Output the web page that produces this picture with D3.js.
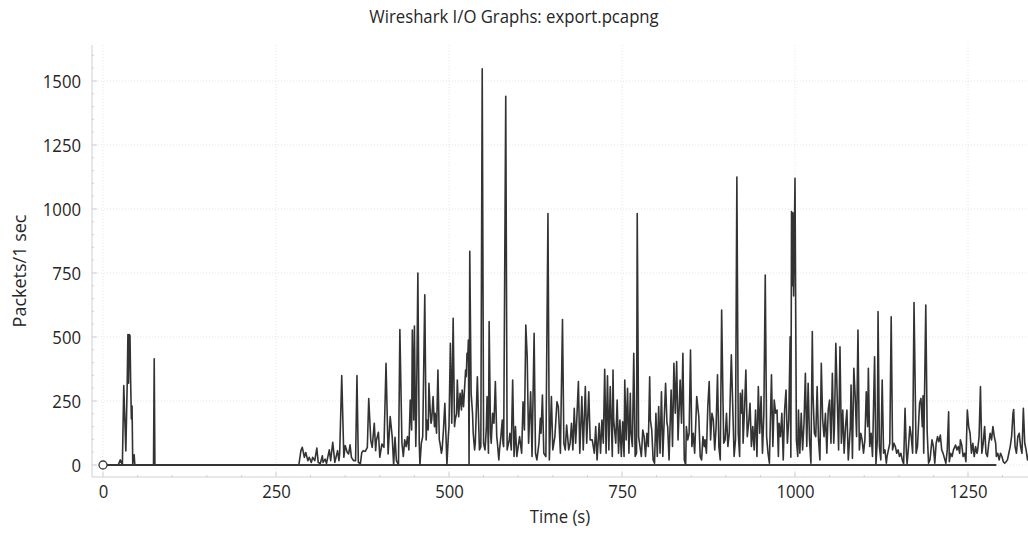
<!DOCTYPE html>
<html><head><meta charset="utf-8">
<script src="https://cdn.jsdelivr.net/npm/d3@7"></script>
<style>
body{margin:0;background:#fff}
svg{display:block}
text{font-family:"Open Sans",sans-serif;fill:#262626}
</style>
</head><body>
<svg id="chart" width="1028" height="533"></svg>
<script>
const chartTitle = "Wireshark I/O Graphs: export.pcapng";
const xAxisTitle = "Time (s)";
const yAxisTitle = "Packets/1 sec";
const xTickValues = [0, 250, 500, 750, 1000, 1250];
const yTickValues = [0, 250, 500, 750, 1000, 1250, 1500];

// [time in seconds, packets per second]
const packetSeries = [
[0,0],[22,0],[25,20],[28,0],[30,310],[32,140],[33,55],[35,320],[36,510],[37,320],[38,510],[39,505],[40,320],[41,180],[42,230],[43,0],[44,35],[45,40],[46,0],[73,0],[74,415],[75,0],[283,0],
[286,56],[288,69],[290,43],[291,30],[293,49],[296,17],[298,30],[301,10],[303,30],[306,17],[309,66],[311,10],[314,6],[317,36],[318,10],[321,23],[323,6],[327,59],[329,17],[332,89],[335,10],[339,56],[341,17],[342,43],[345,349],[348,30],[350,76],
[353,49],[355,43],[357,79],[359,30],[362,17],[365,17],[367,349],[369,10],[372,6],[374,49],[376,56],[379,53],[382,69],[384,260],[387,95],[389,69],[392,163],[394,56],[395,95],[398,128],[400,30],[403,82],[406,69],[409,397],[412,43],[415,189],[418,108],[420,0],[422,108],[424,17],[427,0],[429,529],
[432,85],[434,33],[436,98],[438,72],[440,111],[442,59],[444,254],[446,137],[447,527],[449,176],[450,543],[452,72],[453,202],[455,750],[457,85],[458,0],[460,85],[462,111],[465,665],[467,98],[468,176],[470,137],[471,319],[473,202],[474,163],[475,176],[477,267],[479,150],[480,202],[482,124],[484,371],[486,98],[487,85],[489,46],[490,59],[492,137],[494,241],[496,85],[497,0],[499,111],[500,150],
[502,475],[504,163],[506,573],[508,150],[509,176],[511,202],[512,332],[514,189],[516,280],[518,215],[519,293],[521,228],[524,371],[525,345],[526,436],[527,410],[528,488],[529,0],[530,835],[532,280],[534,202],[535,124],[537,59],[538,85],[541,345],[543,150],[544,59],[546,72],[548,1548],[550,85],[552,59],[553,98],[554,150],[555,267],[557,46],[558,560],[560,124],[561,85],[563,202],[565,163],[567,326],[569,111],[570,85],[572,20],[573,59],[575,111],[577,176],[578,85],[579,72],[582,1440],[584,59],[585,72],[587,98],[588,124],[590,59],
[592,332],[594,33],[596,150],[598,33],[602,111],[605,46],[607,247],[609,137],[611,547],[613,423],[615,85],[618,286],[620,33],[623,514],[625,46],[627,20],[630,85],[632,182],[633,124],[635,273],[637,46],[640,33],[643,982],[645,20],[648,267],[650,59],[653,111],[656,247],[658,228],[661,46],[664,568],[666,85],[668,59],[670,156],[673,59],[675,85],[677,163],[679,59],[681,221],[683,85],[684,137],[687,326],[689,46],[692,267],[694,59],[697,306],[699,85],[702,286],[704,98],[707,98],[710,46],[712,150],[714,20],[717,163],[719,46],[721,176],[723,85],[725,374],[727,46],[729,348],[731,59],[733,306],[736,33],[737,371],[738,176],[741,85],[743,254],[745,46],[747,176],
[749,33],[751,169],[753,33],[754,332],[756,98],[758,300],[760,46],[762,280],[763,124],[765,72],[767,436],[769,33],[771,46],[772,982],[774,111],[776,72],[778,33],[780,137],[782,111],[784,33],[786,124],[788,72],[790,345],[791,176],[793,137],[795,20],[797,7],[799,202],[801,33],[803,228],[805,46],[807,286],[809,33],[811,176],[813,319],[815,163],[816,150],[818,20],[821,293],[823,72],[825,397],[827,202],[829,404],[831,98],[834,332],[836,163],[838,436],[840,20],[842,0],[843,150],[845,98],[847,124],[849,449],[851,72],[853,124],[855,46],[858,267],[861,189],[863,33],[865,20],[867,111],[869,72],[870,98],[872,46],[874,228],[876,326],[878,98],[880,202],[882,176],[884,59],[886,150],[888,352],[890,72],[892,20],[894,605],[896,241],[897,85],[899,98],[901,202],[903,72],[905,124],
[908,430],[912,33],[914,98],[916,1125],[918,124],[920,33],[921,280],[923,202],[924,293],[925,85],[927,215],[929,371],[931,111],[933,163],[935,241],[937,72],[939,150],[941,59],[943,215],[945,33],[947,306],[949,124],[951,267],[953,46],[955,202],[957,742],[959,111],[961,46],[963,7],[964,124],[966,352],[968,72],[970,254],[972,202],[974,215],[976,33],[977,163],[979,111],[981,202],[983,20],[985,215],[987,293],[989,85],[991,176],[993,501],[994,30],[995,990],[996,700],[997,985],[998,660],[1000,1120],[1002,98],[1004,33],[1005,215],[1007,46],[1009,202],[1011,59],[1013,163],[1015,358],[1017,72],[1019,319],[1021,98],[1023,7],[1025,521],[1026,280],[1028,124],[1030,111],[1032,306],[1034,98],[1036,20],[1038,397],[1040,176],[1042,111],[1044,202],[1046,46],[1048,215],[1050,254],[1052,85],[1054,358],[1056,85],[1057,150],[1059,475],[1061,267],[1063,59],[1065,462],
[1067,85],[1069,215],[1071,46],[1073,150],[1075,215],[1077,20],[1080,150],[1081,312],[1083,26],[1085,378],[1087,267],[1089,111],[1091,527],[1093,59],[1095,124],[1097,98],[1099,46],[1101,98],[1103,286],[1105,150],[1106,378],[1108,72],[1110,124],[1112,33],[1115,423],[1117,4],[1119,98],[1120,599],[1122,72],[1124,20],[1126,332],[1128,46],[1130,59],[1132,7],[1133,33],[1135,59],[1137,85],[1139,579],[1141,59],[1143,85],[1145,72],[1147,46],[1149,59],[1151,33],[1153,46],[1155,20],[1157,4],[1159,221],[1161,46],[1162,4],[1164,72],[1166,150],[1168,111],[1170,46],[1172,635],[1175,46],[1177,72],[1180,241],[1182,260],[1184,150],[1185,270],[1186,46],[1189,625],[1191,130],[1193,7],[1195,20],[1198,98],[1200,72],[1202,7],[1204,85],[1206,111],[1208,91],
[1210,117],[1212,59],[1214,46],[1216,26],[1218,7],[1220,59],[1222,208],[1223,13],[1225,46],[1227,33],[1229,59],[1232,78],[1234,59],[1236,72],[1238,46],[1239,98],[1241,78],[1243,33],[1245,46],[1247,13],[1249,215],[1251,150],[1253,124],[1255,46],[1257,85],[1259,33],[1261,72],[1263,46],[1264,59],[1266,111],[1268,306],[1270,46],[1272,85],[1274,150],[1276,46],[1278,33],[1280,85],[1282,124],[1284,98],[1286,150],[1288,111],[1290,85],[1291,33],[1293,46],[1295,20],[1297,46],[1299,33],[1301,13],[1303,7],[1305,13],[1307,20],[1309,46],[1311,72],[1313,111],[1315,202],[1316,217],[1318,72],[1320,46],[1322,111],[1324,124],[1326,72],[1328,46],[1330,221],[1332,85],[1334,59],[1336,20],[1338,46]
];

// second graph: flat at zero
const zeroSeries = [[0,0],[1291,0]];

const svg = d3.select("#chart");
const plot = {left: 92, right: 1028, top: 45, bottom: 477};

const x = d3.scaleLinear().domain([0, 1250]).range([103, 968]);
const y = d3.scaleLinear().domain([0, 1500]).range([465, 81]);

const xMax = x.invert(plot.right);
const yMaxV = y.invert(plot.top);
const sx = 0.88; // horizontal squeeze of glyphs
const fmt = d3.format("d");

// grid
const grid = svg.append("g");
grid.selectAll("line.vg").data(xTickValues).join("line")
  .attr("x1", d => x(d)).attr("x2", d => x(d))
  .attr("y1", plot.top).attr("y2", plot.bottom)
  .attr("stroke", "#e4e4e4").attr("stroke-dasharray", "1,2");
grid.selectAll("line.hg").data(yTickValues).join("line")
  .attr("y1", d => y(d)).attr("y2", d => y(d))
  .attr("x1", plot.left).attr("x2", plot.right)
  .attr("stroke", "#e4e4e4").attr("stroke-dasharray", "1,2");

// axis lines
const axisColor = "#cfcfcf";
svg.append("line").attr("x1", plot.left).attr("x2", plot.left)
  .attr("y1", plot.top).attr("y2", plot.bottom).attr("stroke", axisColor);
svg.append("line").attr("x1", plot.left).attr("x2", plot.right)
  .attr("y1", plot.bottom).attr("y2", plot.bottom).attr("stroke", axisColor);

const xMinor = d3.range(0, xMax, 50);
svg.append("g").selectAll("line").data(xMinor).join("line")
  .attr("x1", d => x(d)).attr("x2", d => x(d))
  .attr("y1", plot.bottom).attr("y2", d => plot.bottom - (d % 250 === 0 ? 5 : 2))
  .attr("stroke", axisColor);
const yMinor = d3.range(0, yMaxV, 50);
svg.append("g").selectAll("line").data(yMinor).join("line")
  .attr("y1", d => y(d)).attr("y2", d => y(d))
  .attr("x1", plot.left).attr("x2", d => plot.left + (d % 250 === 0 ? 5 : 2))
  .attr("stroke", axisColor);

// tick labels via d3 axes
const yAxis = svg.append("g").attr("transform", "translate(81,0)")
  .call(d3.axisLeft(y).tickValues(yTickValues).tickFormat(fmt).tickSize(0).tickPadding(0));
yAxis.select(".domain").remove();
yAxis.selectAll("text").attr("font-size", 19).attr("font-family", "Open Sans")
  .attr("fill", "#262626").attr("transform", `scale(${sx},1)`);

const xAxis = svg.append("g").attr("transform", `translate(0,${plot.bottom})`)
  .call(d3.axisBottom(x).tickValues(xTickValues).tickFormat(fmt).tickSize(0).tickPadding(8));
xAxis.select(".domain").remove();
xAxis.selectAll("text").attr("font-size", 19).attr("font-family", "Open Sans")
  .attr("fill", "#262626").attr("transform", `scale(${sx},1)`);

// titles
svg.append("text").attr("transform", `translate(514,23) scale(${sx},1)`)
  .attr("text-anchor", "middle").attr("font-size", 19).text(chartTitle);
svg.append("text").attr("transform", `translate(560,523) scale(${sx},1)`)
  .attr("text-anchor", "middle").attr("font-size", 19).text(xAxisTitle);
svg.append("text").attr("transform", "translate(26,271) rotate(-90)")
  .attr("text-anchor", "middle").attr("font-size", 18).text(yAxisTitle);

// data
svg.append("clipPath").attr("id", "clip").append("rect")
  .attr("x", plot.left).attr("y", plot.top)
  .attr("width", plot.right - plot.left).attr("height", plot.bottom - plot.top);

const line = d3.line().x(d => x(d[0])).y(d => y(d[1]));
const g = svg.append("g").attr("clip-path", "url(#clip)");
g.append("path").datum(zeroSeries).attr("d", line)
  .attr("fill", "none").attr("stroke", "#3a3a3a").attr("stroke-width", 2);
g.append("path").datum(packetSeries).attr("d", line)
  .attr("fill", "none").attr("stroke", "#333").attr("stroke-width", 1.6)
  .attr("stroke-linejoin", "round");
g.append("circle").attr("cx", x(0)).attr("cy", y(0)).attr("r", 4)
  .attr("fill", "#fff").attr("stroke", "#3a3a3a").attr("stroke-width", 1.3);
</script>
</body></html>
